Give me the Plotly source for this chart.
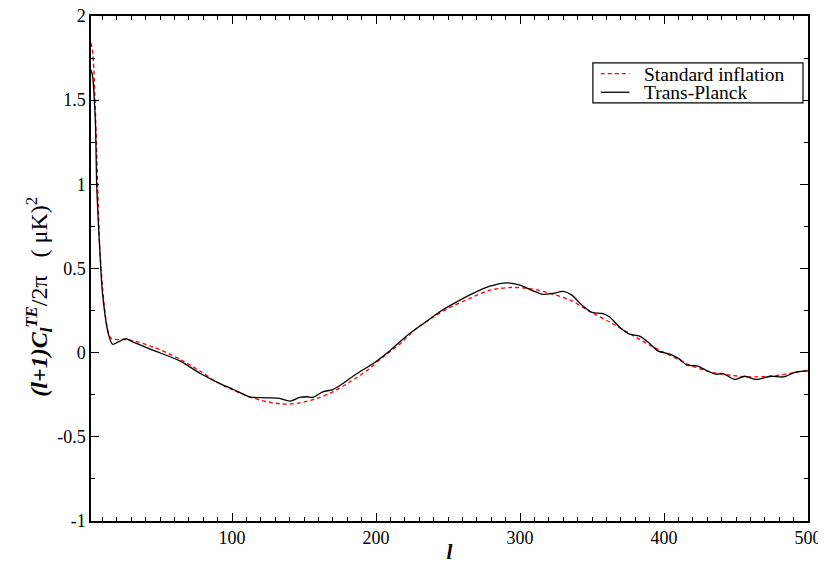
import plotly.graph_objects as go

# Standard inflation (red dashed)
l_std = [2, 3, 4, 5, 6, 7, 8, 10, 12, 14, 16, 20, 29, 45, 64, 78, 89, 101, 112, 124, 138, 147,
         159, 170, 182, 194, 205, 217, 228, 240, 251, 265, 279, 293, 307, 321, 335, 349, 362,
         376, 390, 404, 418, 432, 446, 460, 474, 487, 500]
c_std = [1.84, 1.80, 1.68, 1.45, 1.18, 0.90, 0.64, 0.39, 0.22, 0.12, 0.085, 0.078, 0.075, 0.035,
         -0.04, -0.11, -0.173, -0.223, -0.262, -0.292, -0.306, -0.298, -0.272, -0.233, -0.173,
         -0.104, -0.025, 0.055, 0.144, 0.213, 0.267, 0.322, 0.371, 0.387, 0.381, 0.352, 0.312,
         0.242, 0.183, 0.114, 0.045, -0.015, -0.074, -0.114, -0.134, -0.144, -0.140, -0.124, -0.104]

# Trans-Planck (black solid)
l_tp = [2, 3, 5, 6, 8, 10, 14, 17, 21, 26, 31, 45, 64, 78, 89, 101, 112, 124, 133, 140, 147, 152,
        156, 163, 170, 177, 186, 198, 210, 221, 233, 244, 256, 268, 279, 291, 300, 309, 316, 323,
        330, 336, 343, 350, 357, 362, 369, 376, 383, 390, 396, 404, 411, 416, 423, 430, 436, 441,
        449, 456, 464, 474, 483, 492, 500]
c_tp = [1.68, 1.649, 1.381, 0.985, 0.629, 0.352, 0.114, 0.05, 0.064, 0.084, 0.064, 0.015, -0.05,
        -0.124, -0.173, -0.219, -0.262, -0.268, -0.272, -0.288, -0.266, -0.262, -0.266, -0.233,
        -0.219, -0.183, -0.128, -0.064, 0.015, 0.098, 0.173, 0.242, 0.302, 0.355, 0.395, 0.415,
        0.401, 0.367, 0.346, 0.352, 0.364, 0.342, 0.282, 0.239, 0.233, 0.213, 0.153, 0.110, 0.098,
        0.055, 0.009, -0.009, -0.040, -0.074, -0.078, -0.108, -0.128, -0.124, -0.159, -0.140,
        -0.159, -0.140, -0.144, -0.114, -0.108]

series_names = ["Standard inflation", "Trans-Planck"]
series_colors = ["#ff0000", "#000000"]
series_dash = ["4px,3px", "solid"]

FONT = "Liberation Serif, Times New Roman, serif"

fig = go.Figure()
for xs, ys, name, col, dash in zip([l_std, l_tp], [c_std, c_tp], series_names, series_colors, series_dash):
    fig.add_trace(go.Scatter(x=xs, y=ys, mode="lines", name=name, showlegend=False,
                             line=dict(color=col, width=1.3, dash=dash, shape="spline", smoothing=0.8)))

axis_common = dict(showline=True, linecolor="black", linewidth=1.5, mirror="ticks",
                   ticks="inside", ticklen=8, tickwidth=1, tickcolor="black",
                   showgrid=False, zeroline=False, automargin=False,
                   ticklabeloverflow="allow",
                   tickfont=dict(family=FONT, size=18, color="black"))

fig.update_xaxes(range=[2, 500], tickvals=[100, 200, 300, 400, 500],
                 minor=dict(dtick=10, tick0=0, ticks="inside", ticklen=4, tickcolor="black"),
                 title=dict(text="<b><i>l</i></b>", font=dict(family=FONT, size=21, color="black"),
                            standoff=2),
                 **axis_common)
fig.update_yaxes(range=[-1, 2], tickvals=[-1, -0.5, 0, 0.5, 1, 1.5, 2],
                 ticktext=["-1", "-0.5", "0", "0.5", "1", "1.5", "2"],
                 minor=dict(dtick=0.25, tick0=0, ticks="inside", ticklen=4, tickcolor="black"),
                 **axis_common)

# Y-axis title (placed like the original, slightly below centre)
fig.add_annotation(xref="paper", yref="paper", x=-0.072, y=0.445, textangle=-90,
                   showarrow=False, xanchor="center", yanchor="middle",
                   text="<b><i>(l+1)C</i></b><sub><b><i>l</i></b></sub><sup><b><i>TE</i></b></sup>/2π   ( μK)<sup>2</sup>",
                   font=dict(family=FONT, size=24, color="black"))

# Legend box (drawn in paper coordinates of the plot area)
fig.add_shape(type="rect", xref="paper", yref="paper", x0=0.700, x1=0.993, y0=0.828, y1=0.907,
              line=dict(color="black", width=1.2), fillcolor="white", layer="above")
legend_rows_y = [0.886, 0.849]
for ry, name, col, dash in zip(legend_rows_y, series_names, series_colors, series_dash):
    fig.add_shape(type="line", xref="paper", yref="paper", x0=0.711, x1=0.751, y0=ry, y1=ry,
                  line=dict(color=col, width=1.3, dash=dash), layer="above")
    fig.add_annotation(xref="paper", yref="paper", x=0.768, y=ry, text=name, showarrow=False,
                       xanchor="left", yanchor="middle", height=18, valign="middle",
                       font=dict(family=FONT, size=19.5, color="black"))

fig.update_layout(
    width=818, height=556,
    margin=dict(l=83, r=18, t=8, b=43),
    paper_bgcolor="white", plot_bgcolor="white",
    showlegend=False,
)

fig.write_html("out.html")
